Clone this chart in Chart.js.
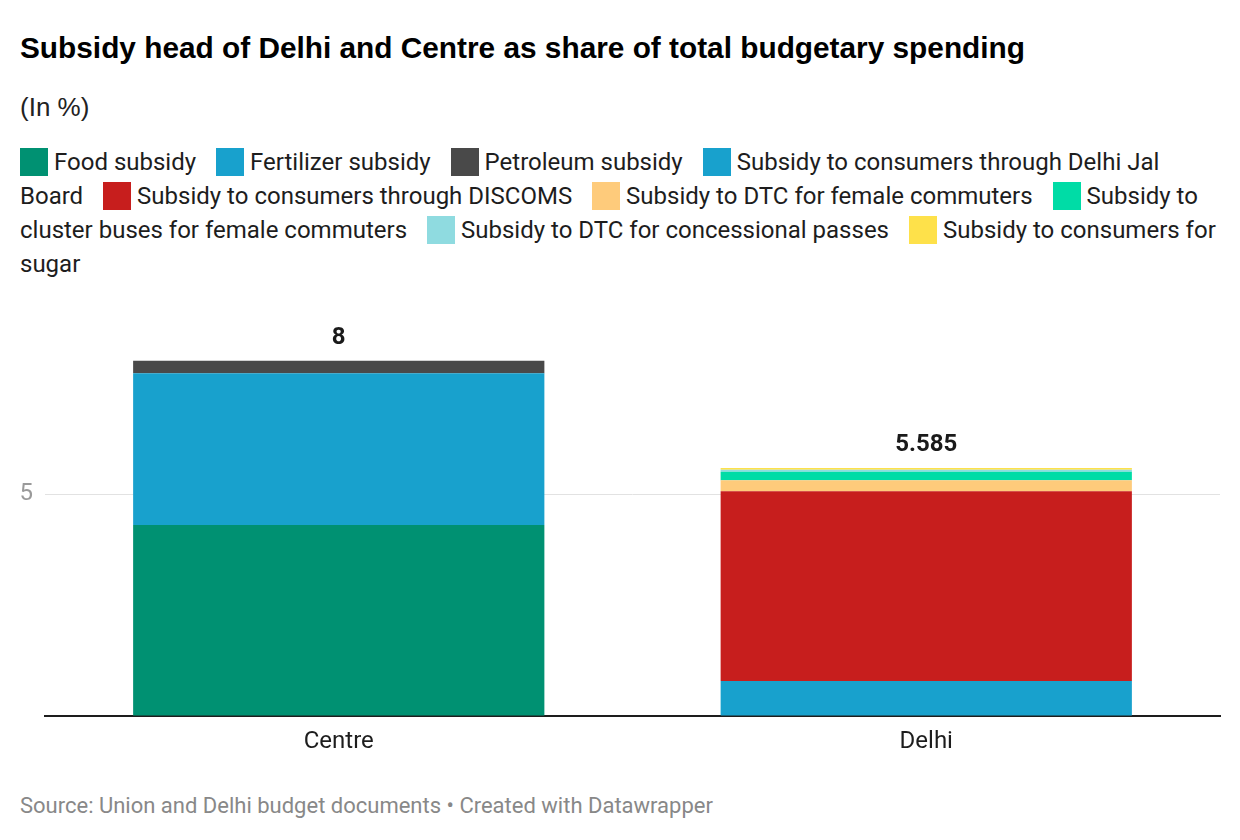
<!DOCTYPE html>
<html>
<head>
<meta charset="utf-8">
<script src="https://cdn.jsdelivr.net/npm/chart.js@4/dist/chart.umd.min.js"></script>
<style>
  body { margin: 0; width: 1240px; height: 840px; background: #fff; font-family: Roboto, "Noto Sans", sans-serif; color: #222; position: relative; overflow: hidden; }
  h1 { position: absolute; left: 20px; top: 33px; margin: 0; font-family: "Liberation Sans", Arial, sans-serif; font-size: 29.8px; line-height: 1; font-weight: 700; color: #000; white-space: nowrap; }
  .sub { position: absolute; left: 20px; top: 94px; font-family: "Liberation Sans", Arial, sans-serif; font-size: 26px; line-height: 1; color: #222; }
  #legend { position: absolute; left: 20px; top: 145px; width: 1205px; font-size: 24px; line-height: 34px; color: #1d1d1d; }
  #legend .sw { display: inline-block; width: 28px; height: 28px; vertical-align: top; margin-top: 3px; margin-right: 6px; }
  #legend .gap { display: inline-block; width: 14px; }
  #wrap { position: absolute; left: 0; top: 290px; width: 1240px; height: 470px; }
  .src { position: absolute; left: 20px; top: 795px; font-size: 22px; line-height: 1; color: #888; white-space: nowrap; }
</style>
</head>
<body>
<h1>Subsidy head of Delhi and Centre as share of total budgetary spending</h1>
<div class="sub">(In %)</div>
<div id="legend"></div>
<div id="wrap"><canvas id="chart" width="1240" height="470"></canvas></div>
<div class="src">Source: Union and Delhi budget documents • Created with Datawrapper</div>
<script>
const categories = ["Centre", "Delhi"];

const seriesNames = [
  "Food subsidy",
  "Fertilizer subsidy",
  "Petroleum subsidy",
  "Subsidy to consumers through Delhi Jal Board",
  "Subsidy to consumers through DISCOMS",
  "Subsidy to DTC for female commuters",
  "Subsidy to cluster buses for female commuters",
  "Subsidy to DTC for concessional passes",
  "Subsidy to consumers for sugar"
];
const seriesColors = ["#009172", "#18a1cd", "#494949", "#18a1cd", "#c71e1d", "#fecb7b", "#00dca6", "#8fdbe0", "#fee14a"];

// values per series: [Centre, Delhi]
const foodSubsidy = [4.3, null];
const fertilizerSubsidy = [3.42, null];
const petroleumSubsidy = [0.28, null];
const jalBoard = [null, 0.79];
const discoms = [null, 4.27];
const dtcFemale = [null, 0.25];
const clusterBuses = [null, 0.19];
const dtcConcessional = [null, 0.045];
const sugar = [null, 0.04];

const seriesValues = [foodSubsidy, fertilizerSubsidy, petroleumSubsidy, jalBoard, discoms, dtcFemale, clusterBuses, dtcConcessional, sugar];

const yTicks = [5];

// legend
const legendEl = document.getElementById("legend");
legendEl.innerHTML = seriesNames.map((n, i) =>
  `<span class="sw" style="background:${seriesColors[i]}"></span>${n}`
).join('<span class="gap"></span> ');

function fmt(n) {
  return String(Number(n.toFixed(3)));
}

const totalLabels = {
  id: "totalLabels",
  afterDatasetsDraw(chart) {
    const { ctx, scales } = chart;
    ctx.save();
    ctx.font = "700 24px Roboto";
    ctx.fillStyle = "#1a1a1a";
    ctx.textAlign = "center";
    ctx.textBaseline = "middle";
    categories.forEach((c, i) => {
      const total = seriesValues.reduce((s, arr) => s + (arr[i] || 0), 0);
      const x = scales.x.getPixelForValue(i);
      const y = scales.y.getPixelForValue(total);
      ctx.fillText(fmt(total), x, y - 23);
    });
    ctx.restore();
  }
};

new Chart(document.getElementById("chart"), {
  type: "bar",
  data: {
    labels: categories,
    datasets: seriesNames.map((n, i) => ({
      label: n,
      data: seriesValues[i],
      backgroundColor: seriesColors[i],
      borderWidth: 0,
      categoryPercentage: 1,
      barPercentage: 0.7
    }))
  },
  options: {
    responsive: false,
    animation: false,
    devicePixelRatio: 1,
    layout: { padding: { top: 24, right: 20, bottom: 0, left: 0 } },
    plugins: { legend: { display: false }, tooltip: { enabled: false } },
    scales: {
      x: {
        stacked: true,
        afterFit(scale) { scale.height = 44; },
        grid: { display: false },
        border: { display: true, color: "#1d1d1d", width: 2 },
        ticks: { color: "#1d1d1d", font: { family: "Roboto", size: 24 }, padding: 4 }
      },
      y: {
        stacked: true,
        min: 0,
        max: 9,
        afterFit(scale) { scale.width = 45; },
        afterBuildTicks(scale) { scale.ticks = [0].concat(yTicks).map(v => ({ value: v })); },
        border: { display: false },
        grid: {
          drawTicks: false,
          color: (c) => (c.tick && yTicks.includes(c.tick.value)) ? "#e2e2e2" : "rgba(0,0,0,0)"
        },
        ticks: {
          padding: 12,
          color: "#9a9a9a",
          font: { family: "Roboto", size: 24 },
          callback: (v) => yTicks.includes(v) ? String(v) : ""
        }
      }
    }
  },
  plugins: [totalLabels]
});
</script>
</body>
</html>
